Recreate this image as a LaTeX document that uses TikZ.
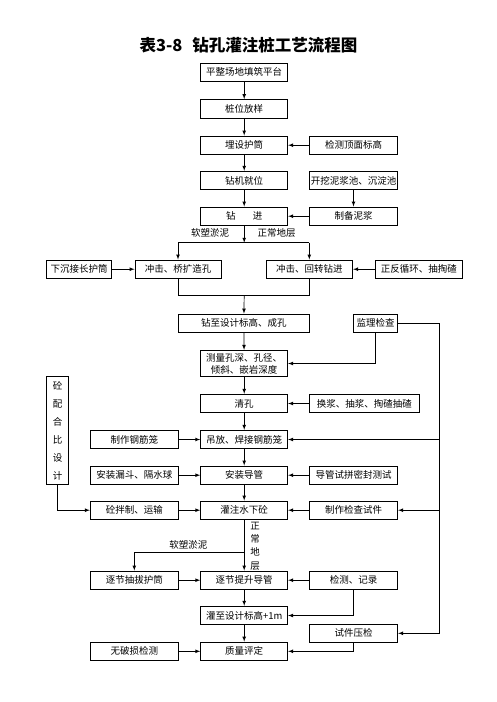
\documentclass[tikz,border=0pt]{standalone}
\usepackage{fontspec}
\setmainfont{Noto Sans CJK SC}
\usetikzlibrary{arrows}
\tikzset{
  box/.style={draw, line width=0.9pt, minimum width=87pt, minimum height=18.5pt, inner sep=0pt, align=center, font=\fontsize{9.5}{12}\selectfont},
  wire/.style={line width=0.7pt},
  feed/.style={wire, -latex},
  lbl/.style={inner sep=0pt, align=center, font=\fontsize{9.5}{12}\selectfont}
}
\begin{document}
\begin{tikzpicture}[x=1pt, y=-1pt]
					\useasboundingbox (0,0) rectangle (496,702);
					% Nodes:
					\node[font=\fontsize{16.5}{20}\selectfont\bfseries] (title) at (248.5,45){表3-8\hspace{0.6em}钻孔灌注桩工艺流程图};
					\node[box] (pingzheng) at (244.2,72.2){平整场地填筑平台};
					\node[box] (zhuangwei) at (244.2,108.8){桩位放样};
					\node[box] (maishe) at (244.2,145.2){埋设护筒};
					\node[box, minimum width=88.4pt] (jiance) at (353.5,145.2){检测顶面标高};
					\node[box] (zuanji) at (244.2,180.5){钻机就位};
					\node[box, minimum width=88.4pt] (kaiwa) at (353.5,180.5){开挖泥浆池、沉淀池};
					\node[box] (zuanjin) at (244.2,216.2){钻\hspace{1.8em}进};
					\node[box, minimum width=88.4pt] (nijiang) at (353.5,216.2){制备泥浆};
					\node[box, minimum width=65pt] (xiachen) at (79.2,269.2){下沉接长护筒};
					\node[box, minimum width=86pt] (chongL) at (178,269.2){冲击、桥扩造孔};
					\node[box, minimum width=86.7pt] (chongR) at (309.3,269.2){冲击、回转钻进};
					\node[box, minimum width=87.7pt] (zhengfan) at (418.8,269.2){正反循环、抽掏碴};
					\node[box, minimum width=131pt] (chengkong) at (243.8,323.3){钻至设计标高、成孔};
					\node[box, minimum width=44.4pt] (jianli) at (375.5,323.3){监理检查};
					\node[box, minimum height=26.4pt] (celiang) at (244.2,363.5){测量孔深、孔径、\\倾斜、嵌岩深度};
					\node[box] (qingkong) at (244.2,403.5){清孔};
					\node[box, minimum width=110pt] (huanjiang) at (364.3,403.5){换浆、抽浆、掏碴抽碴};
					\node[box, minimum width=21.6pt, minimum height=107.6pt, font=\fontsize{9.5}{18}\selectfont] (peihe) at (57.5,430.5){砼\\配\\合\\比\\设\\计};
					\node[box, minimum width=88pt] (gangjin) at (134.3,439.5){制作钢筋笼};
					\node[box] (diaofang) at (244.2,439.5){吊放、焊接钢筋笼};
					\node[box, minimum width=88pt] (loudou) at (134.3,475.2){安装漏斗、隔水球};
					\node[box] (daoguan) at (244.2,475.2){安装导管};
					\node[box, minimum width=88.4pt] (shipin) at (353.5,475.2){导管试拼密封测试};
					\node[box, minimum width=88pt] (banzhi) at (134.3,510.2){砼拌制、运输};
					\node[box] (guanzhu) at (244.2,510.2){灌注水下砼};
					\node[box, minimum width=88.4pt] (shijian) at (353.5,510.2){制作检查试件};
					\node[box, minimum width=88pt] (choubo) at (134.3,580.2){逐节抽拔护筒};
					\node[box] (tisheng) at (244.2,580.2){逐节提升导管};
					\node[box, minimum width=88.4pt] (jilu) at (353.5,580.2){检测、记录};
					\node[box] (guanzhi) at (244.2,615.5){灌至设计标高+1m};
					\node[box, minimum width=88.4pt] (yajian) at (353.5,633.3){试件压检};
					\node[box, minimum width=88pt] (wusun) at (134.3,651.3){无破损检测};
					\node[box] (pingding) at (244.2,651.3){质量评定};
					\node[lbl] (ruanL) at (210,233){软塑淤泥};
					\node[lbl] (zhengR) at (276.7,233){正常地层};
					\node[lbl] (ruanB) at (188.3,545){软塑淤泥};
					\node[lbl, font=\fontsize{9.5}{13.3}\selectfont] (zhengB) at (255,546){正\\常\\地\\层};
					\coordinate (fork) at (244.2,242.7);
					\coordinate (forkL) at (178,242.7);
					\coordinate (forkR) at (309.3,242.7);
					\coordinate (join) at (244.2,295);
					\coordinate (joinL) at (178,295);
					\coordinate (joinR) at (309.3,295);
					\coordinate (branch) at (244.2,552.3);
					\coordinate (rail) at (439.3,323.3);
					% Paths and arrows:
					\draw[feed] (pingzheng) -- (zhuangwei);
					\draw[feed] (zhuangwei) -- (maishe);
					\draw[feed] (maishe) -- (zuanji);
					\draw[feed] (zuanji) -- (zuanjin);
					\draw[feed] (jiance) -- (maishe);
					\draw[feed] (kaiwa) -- (nijiang);
					\draw[feed] (nijiang) -- (zuanjin);
					\draw[feed] (zuanjin) -- (fork);
					\draw[wire] (forkL) -- (forkR);
					\draw[feed] (forkL) -- (chongL);
					\draw[feed] (forkR) -- (chongR);
					\draw[feed] (xiachen) -- (chongL);
					\draw[feed] (zhengfan) -- (chongR);
					\draw[wire] (chongL) -- (joinL) -- (joinR) -- (chongR);
					\draw[feed] (join) -- (chengkong);
					\draw[feed] (chengkong) -- (celiang);
					\draw[feed] (jianli.south) |- (celiang.east);
					\draw[feed] (jianli.east) -- (rail) |- (yajian.east);
					\draw[feed] (rail |- diaofang) -- (diaofang.east);
					\draw[feed] (rail |- shijian) -- (shijian.east);
					\draw[feed] (celiang) -- (qingkong);
					\draw[feed] (huanjiang) -- (qingkong);
					\draw[feed] (qingkong) -- (diaofang);
					\draw[feed] (gangjin) -- (diaofang);
					\draw[feed] (diaofang) -- (daoguan);
					\draw[feed] (loudou) -- (daoguan);
					\draw[feed] (shipin) -- (daoguan);
					\draw[feed] (daoguan) -- (guanzhu);
					\draw[feed] (peihe.south) |- (banzhi.west);
					\draw[feed] (banzhi) -- (guanzhu);
					\draw[feed] (shijian) -- (guanzhu);
					\draw[feed] (guanzhu) -- (tisheng);
					\draw[feed] (branch) -| (choubo.north);
					\draw[feed] (choubo) -- (tisheng);
					\draw[feed] (jilu) -- (tisheng);
					\draw[feed] (tisheng) -- (guanzhi);
					\draw[feed] (jilu.south) |- (guanzhi.east);
					\draw[feed] (guanzhi) -- (pingding);
					\draw[feed] (wusun) -- (pingding);
					\draw[feed] (yajian.south) |- (pingding.east);
				\end{tikzpicture}
\end{document}
